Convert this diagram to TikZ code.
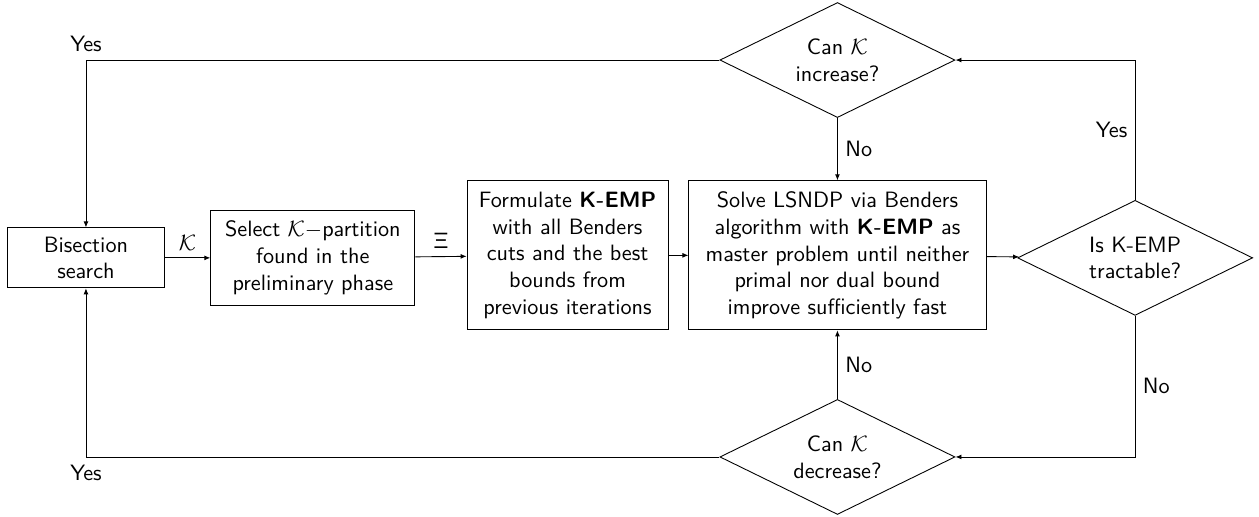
\documentclass[tikz,border=0pt]{standalone}
\usepackage{amssymb}
\usepackage{tikz}
\usetikzlibrary{shapes,arrows,arrows.meta,positioning}

\begin{document}
\begin{tikzpicture}[font=\sffamily, >={Latex[length=2.7pt,width=2.2pt]}]
		\tikzstyle{Block} 	= [rectangle, draw, align=center, inner sep=3.33pt]
		\tikzstyle{Decision}	= [diamond, draw, align=center, aspect=2, inner sep=0pt, minimum width=3.72cm, minimum height=1.82cm]
		\tikzstyle{Flow}	= [black]

		\useasboundingbox (0, 0) rectangle (19.92, -8.165);

		\node (bis) at (1.36, -4.08) [Block][minimum width=2.48cm, minimum height=0.95cm] {Bisection\\search};
		\node (sel) at (4.95, -4.08) [Block][minimum width=3.23cm, minimum height=1.49cm] {Select $\mathcal{K}-$partition\\found in the\\preliminary phase};
		\node (form) at (8.98, -4.04) [Block][minimum width=3.18cm, minimum height=2.36cm] {Formulate \textbf{K-EMP}\\with all Benders\\cuts and the best\\bounds from\\previous iterations};
		\node (solve) at (13.25, -4.04) [Block][minimum width=4.70cm, minimum height=2.36cm] {Solve LSNDP via Benders\\algorithm with \textbf{K-EMP} as\\master problem until neither\\primal nor dual bound\\improve sufficiently fast};
		\node (tract) at (17.96, -4.08) [Decision] {Is K-EMP\\tractable?};
		\node (inc) at (13.25, -0.95) [Decision] {Can $\mathcal{K}$\\increase?};
		\node (dec) at (13.25, -7.23) [Decision] {Can $\mathcal{K}$\\decrease?};

		\draw [->] (bis) to node [above] {$\mathcal{K}$} (sel) [Flow];
		\draw [->] (sel) to node [above] {$\mathsf{\Xi}$} (form) [Flow];
		\draw [->] (form) to (solve) [Flow];
		\draw [->] (solve) to (tract) [Flow];
		\draw [->] (tract.north) |- node [pos=0.25, left] {Yes} (inc.east) [Flow];
		\draw [->] (tract.south) |- node [pos=0.25, right] {No} (dec.east) [Flow];
		\draw [->] (inc.south) to node [right] {No} (solve.north) [Flow];
		\draw [->] (dec.north) to node [right] {No} (solve.south) [Flow];
		\draw [->] (inc.west) -| node [pos=0.5, above] {Yes} (bis.north) [Flow];
		\draw [->] (dec.west) -| node [pos=0.5, below] {Yes} (bis.south) [Flow];
	\end{tikzpicture}
\end{document}
